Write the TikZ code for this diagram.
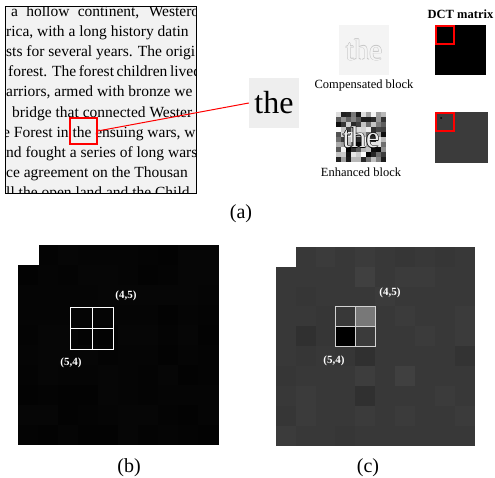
\documentclass[tikz,border=0pt]{standalone}
\usepackage{fontspec}
\setmainfont{Liberation Serif}
\usetikzlibrary{positioning}

\begin{document}
\begin{tikzpicture}[
    x=1pt, y=-1pt,
    node distance=4pt,
    thumb/.style={rectangle, inner sep=0pt, minimum width=50pt, minimum height=50pt},
    redbox/.style={rectangle, draw=red, line width=2pt, inner sep=0pt},
    lbl/.style={inner sep=0pt, font=\fontsize{12.5}{14}\selectfont},
    sublbl/.style={inner sep=0pt, font=\fontsize{20}{22}\selectfont},
    idx/.style={inner sep=0pt, text=white, font=\bfseries\fontsize{11}{12}\selectfont},
    txt/.style={anchor=base west, inner sep=0pt, font=\fontsize{15.5}{20}\selectfont},
    big/.style={inner sep=0pt, font=\fontsize{30}{30}\selectfont}
  ]
  \useasboundingbox (0,0) rectangle (495,477);

  % scanned page
  \begin{scope}
    \clip (5,6) rectangle (196,193);
    \fill[gray!10] (5,6) rectangle (196,193);
    \foreach \i/\x/\s in {1/11/{\makebox[188pt][s]{a hollow continent, Westero}},
        2/6/{rica, with a long history datin},
        3/6/{sts for several years. The origi},
        4/8/{\makebox[187pt][s]{forest. The forest children lived}},
        5/6/{arriors, armed with bronze we},
        6/12/{bridge that connected Wester},
        7/3/{e Forest in the ensuing wars, w},
        8/6/{nd fought a series of long wars},
        9/6/{ce agreement on the Thousan},
        10/6/{ll the open land and the Child}}
      \node[txt] (line\i) at (\x, {16+20.2*(\i-1)}) {\s};
  \end{scope}
  \draw[line width=0.8pt] (5,6) rectangle (196,193);

  \node[redbox, line width=1.4pt, minimum width=27pt, minimum height=26pt] (pick) at (83.5,131) {};
  \node[thumb, fill=gray!13, font=\fontsize{32}{32}\selectfont] (zoom) at (274,103) {the};
  \draw[red, line width=1pt] (pick.east) -- (zoom.west);

  % compensated block
  \node[thumb, fill=gray!9] (comp) at (364,50) {};
  \foreach \dx/\dy [count=\k] in {-0.5/0, 0.5/0, 0/-0.5, 0/0.5}
    \node[big, text=gray!45, xshift=\dx, yshift=\dy] (compo\k) at (comp) {the};
  \node[big, text=gray!9] (compt) at (comp) {the};
  \node[lbl, below=of comp] (complbl) {Compensated block};

  % enhanced block
  \node[thumb, minimum height=51pt] (enh) at (361,137.5) {};
  \pgfmathsetseed{7}
  \foreach \r in {0,...,9}
    \foreach \c in {0,...,9} {
      \pgfmathsetmacro\g{int(100*rnd)}
      \fill[white!\g!black] (336+5*\c, 112+5*\r) rectangle ++(5.1,5.1);
    }
  \foreach \dx/\dy [count=\k] in {-0.7/0, 0.7/0, 0/-0.7, 0/0.7}
    \node[big, text=black, xshift=\dx, yshift=\dy] (enho\k) at (enh) {the};
  \node[big, text=gray!15] (enht) at (enh) {the};
  \node[lbl, below=of enh] (enhlbl) {Enhanced block};

  % DCT matrices
  \node[thumb, fill=black, minimum width=51pt] (dcta) at (460.5,50) {};
  \node[redbox, minimum size=18pt, anchor=north west] (dctabox) at (dcta.north west) {};
  \node[inner sep=0pt, font=\bfseries\fontsize{12.5}{14}\selectfont, above=6pt of dcta] (dcttitle) {DCT matrix};
  \node[thumb, fill=white!23!black, minimum width=53pt, minimum height=51pt] (dctb) at (461.5,137.5) {};
  \node[redbox, minimum size=18pt, anchor=north west] (dctbbox) at (dctb.north west) {};
  \fill[black] (441,118) circle (1pt);

  \node[sublbl] (suba) at (241,214) {(a)};

  % (b)
  \fill[white!1.5!black] (17.5,245) rectangle (219,444.5);
  \pgfmathsetseed{3}
  \foreach \r in {0,...,9}
    \foreach \c in {0,...,9} {
      \pgfmathsetmacro\g{1+1.5*rnd}
      \fill[white!\g!black] (17.5+20.1*\c, 245+19.95*\r) rectangle ++(20.1,19.95);
    }
  \fill[white] (17.5,245) rectangle (39,264.5);
  \draw[white, line width=1pt] (70.7,307.7) rectangle (113.3,349.3)
    (92,307.7) -- (92,349.3) (70.7,328.5) -- (113.3,328.5);
  \node[idx] (b45) at (126,296) {(4,5)};
  \node[idx] (b54) at (71,363) {(5,4)};
  \node[sublbl] (subb) at (129,468) {(b)};

  % (c)
  \foreach \row [count=\r from 0] in {
      {100,22,23,22,23,22,21,22,21,22},
      {22,22,22,22,25,22,23,23,22,22},
      {22,21,22,22,22,23,22,22,22,22},
      {22,22,21,22,47,22,23,22,22,23},
      {22,19,21,0,23,22,22,23,22,23},
      {22,21,22,21,19,22,22,22,22,20},
      {21,22,22,22,24,22,25,22,22,22},
      {22,23,22,22,19,22,22,22,23,22},
      {21,23,22,22,23,22,23,22,22,23},
      {23,22,22,21,22,22,22,22,22,22}}
    \foreach \v [count=\c from 0] in \row
      \fill[white!\v!black] (275.7+19.9*\c, 246.7+19.9*\r) rectangle ++(20.1,20.1);
  \draw[gray!35, line width=1pt] (335.4,306.4) rectangle (375.2,346.2)
    (355.3,306.4) -- (355.3,346.2) (335.4,326.3) -- (375.2,326.3);
  \node[idx] (c45) at (390,293) {(4,5)};
  \node[idx] (c54) at (334,361) {(5,4)};
  \node[sublbl] (subc) at (368,468) {(c)};
\end{tikzpicture}
\end{document}
